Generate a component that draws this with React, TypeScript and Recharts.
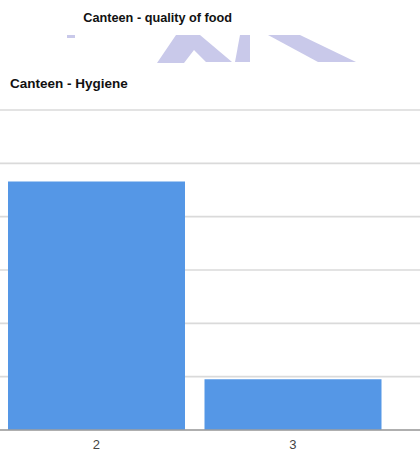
import { BarChart, Bar, XAxis, YAxis, CartesianGrid } from 'recharts';

// Ratings shown on the x axis and the response counts
const ratings = ['2', '3'];
const responses = [4.66, 0.95];
const countTicks = [0, 1, 2, 3, 4, 5, 6];

const data = ratings.map((rating, i) => ({ rating, count: responses[i] }));

const FONT = 'Arial, "Liberation Sans", sans-serif';

export default function App() {
  return (
    <div style={{ position: 'absolute', left: 0, top: 0, width: 420, height: 449, overflow: 'hidden', background: '#fff' }}>
      {/* Bar chart — Canteen hygiene (cropped on the left like the source) */}
      <div style={{ position: 'absolute', left: -2, top: 0 }}>
        <BarChart width={422} height={449} data={data} margin={{ top: 110, right: 0, bottom: 0, left: 0 }} barCategoryGap={10}>
          <CartesianGrid vertical={false} stroke="#dadada" strokeWidth={1.6} />
          <XAxis
            dataKey="rating"
            height={19}
            padding={{ left: 0, right: 29 }}
            axisLine={{ stroke: '#9e9e9e', strokeWidth: 1.3 }}
            tickLine={false}
            tick={{ fontSize: 13, fill: '#444', fontFamily: FONT, dy: 2 }}
          />
          <YAxis hide domain={[0, 6]} ticks={countTicks} />
          <Bar dataKey="count" fill="#5597e6" isAnimationActive={false} />
        </BarChart>
      </div>

      {/* Titles and the faded remains of the previous chart above */}
      <svg width={420} height={100} style={{ position: 'absolute', left: 0, top: 0 }}>
        <text x={83.3} y={22.3} fontFamily={FONT} fontWeight="bold" fontSize={12.7} fill="#111">
          Canteen - quality of food
        </text>
        <g fill="#c9c9ea">
          <rect x={67} y={35} width={8} height={3} />
          <polygon points="157,63 176,35 200,35 232,62 206,62 194,50 184,63" />
          <polygon points="240,35 250,35 250,62 235,62" />
          <polygon points="268,35 300,35 356,62 318,62" />
        </g>
        <text x={10} y={87.7} fontFamily={FONT} fontWeight="bold" fontSize={13.5} fill="#111">
          Canteen - Hygiene
        </text>
      </svg>
    </div>
  );
}
